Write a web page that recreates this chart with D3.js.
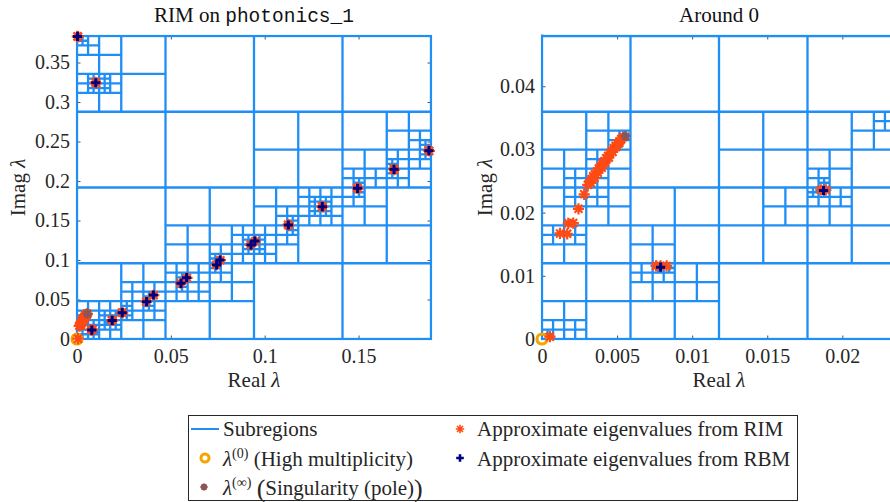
<!DOCTYPE html>
<html><head><meta charset="utf-8">
<script src="https://cdn.jsdelivr.net/npm/d3@7"></script>
<style>
body{margin:0;background:#fff}
svg{display:block}
svg text{font-family:'Liberation Serif','DejaVu Serif',serif}
svg text .mono{font-family:'Liberation Mono','DejaVu Sans Mono',monospace}
</style>
</head><body>
<svg id="chart" width="890" height="502"></svg>
<script>
// ---------------- data ----------------
const XMAX = 0.1886, YMAX = 0.3836;   // search region [0,XMAX] x [0,YMAX]

// subregions: cells that were split, [level, column (from left), row (from top)]
const splitCells = [
  [0,0,0],
  [1,0,0],[1,1,0],[1,0,1],[1,1,1],
  [2,0,0],[2,2,1],[2,3,1],[2,1,2],[2,2,2],[2,3,2],[2,0,3],[2,1,3],
  [3,0,0],[3,0,1],[3,7,2],[3,6,3],[3,7,3],[3,2,5],[3,3,5],[3,4,4],[3,5,4],[3,4,5],
  [3,6,4],[3,1,6],[3,0,7],[3,1,7],[3,2,6],[3,3,6],
  [4,0,0],[4,0,2],[4,1,2],[4,15,5],[4,12,7],[4,13,7],[4,14,6],[4,15,6],[4,14,7],
  [4,7,10],[4,6,11],[4,7,11],[4,9,9],[4,10,8],[4,11,8],[4,10,9],[4,11,9],[4,8,10],
  [4,9,10],[4,8,11],[4,12,8],[4,2,13],[4,3,13],[4,0,14],[4,1,14],[4,0,15],[4,1,15],
  [4,2,14],[4,3,14],[4,4,12],[4,5,12],[4,4,13],[4,5,13],[4,6,12],
  [5,0,0],[5,1,4],[5,1,5],[5,2,4],[5,2,5],[5,31,11],[5,31,12],[5,25,15],[5,25,16],
  [5,28,13],[5,28,14],[5,15,21],[5,15,22],[5,16,21],[5,16,22],[5,19,19],[5,19,20],
  [5,21,17],[5,22,17],[5,21,18],[5,22,18],[5,12,23],[5,12,24],[5,9,25],[5,9,26],
  [5,6,27],[5,6,28],[5,4,28],[5,4,29],[5,0,29],[5,2,29],[5,3,29],[5,0,30],[5,1,30],
  [5,2,30],[5,3,30],[5,0,31],[5,1,31],
  [6,0,0],[6,1,58],[6,0,59],[6,1,59],[6,7,58],[6,6,59],[6,0,60],[6,1,60],[6,0,61],
  [6,2,61],[6,5,60],[6,6,60],[6,0,63],[6,2,62],[6,3,62],
  [7,3,117],[7,1,119],[7,2,118],[7,2,119],[7,15,116],[7,12,119],[7,1,120],[7,2,120],
  [7,0,122],[7,1,122],[7,12,120],[7,13,120],[7,0,127],[7,1,127],[7,4,124],[7,5,124],
  [8,24,240],[8,25,240],[8,25,239],[8,10,248],[8,11,248],[8,7,234],[8,0,255]
];

// lambda^(0): high multiplicity point
const lambda0 = [[0, 0]];
// lambda^(inf): singularity (pole)
const poles = [[0.00556, 0.0321]];

// approximate eigenvalues from RBM
const rbmEig = [
  [0.0003,0.3830],[0.0100,0.3244],[0.1875,0.2384],[0.1689,0.2148],[0.1495,0.1908],
  [0.1307,0.1675],[0.1126,0.1443],[0.0927,0.1190],[0.0948,0.1240],[0.0744,0.0937],
  [0.0762,0.1000],[0.0554,0.0705],[0.0584,0.0776],[0.0371,0.0472],[0.0407,0.0557],
  [0.0241,0.0333],[0.01875,0.0235],[0.0079,0.01136]
];

// approximate eigenvalues from RIM
const rimEig = [
  [0.0002,0.3832],[0.0006,0.3826],[0.0098,0.3248],[0.0102,0.3240],
  [0.1873,0.2388],[0.1877,0.2380],[0.1687,0.2152],[0.1691,0.2144],
  [0.1493,0.1912],[0.1497,0.1904],[0.1305,0.1679],[0.1309,0.1671],
  [0.1124,0.1447],[0.1128,0.1439],[0.0925,0.1192],[0.0950,0.1238],
  [0.0742,0.0940],[0.0764,0.0998],[0.0552,0.0707],[0.0586,0.0774],
  [0.0369,0.0474],[0.0409,0.0555],[0.0239,0.0335],[0.0243,0.0331],
  [0.01857,0.0236],[0.0189,0.0236],
  [0.0076,0.01157],[0.0079,0.01157],[0.0083,0.01157],
  [0.00053,0.00037],
  [0.00120,0.01670],[0.00168,0.01665],[0.00175,0.01830],[0.00208,0.01835],
  [0.00243,0.02060],[0.00281,0.02290],
  [0.00305,0.02440],[0.00318,0.02490],[0.00330,0.02530],[0.00341,0.02575],
  [0.00352,0.02610],[0.00366,0.02650],[0.00379,0.02700],[0.00390,0.02735],
  [0.00403,0.02780],[0.00415,0.02815],[0.00428,0.02860],[0.00441,0.02900],
  [0.00452,0.02940],[0.00466,0.02975],[0.00478,0.03020],[0.00490,0.03055],
  [0.00503,0.03090],[0.00516,0.03130],[0.00528,0.03165],[0.00540,0.03195],
  [0.00325,0.02470],[0.00350,0.02550],[0.00372,0.02630],[0.00398,0.02710],
  [0.00420,0.02790],[0.00445,0.02870],[0.00470,0.02960],[0.00495,0.03040],
  [0.00515,0.03100]
];

const leftXTicks = [0, 0.05, 0.1, 0.15];
const leftXTickLabels = ["0", "0.05", "0.1", "0.15"];
const leftYTicks = [0, 0.05, 0.1, 0.15, 0.2, 0.25, 0.3, 0.35];
const leftYTickLabels = ["0", "0.05", "0.1", "0.15", "0.2", "0.25", "0.3", "0.35"];
const rightXTicks = [0, 0.005, 0.01, 0.015, 0.02];
const rightXTickLabels = ["0", "0.005", "0.01", "0.015", "0.02"];
const rightYTicks = [0, 0.01, 0.02, 0.03, 0.04];
const rightYTickLabels = ["0", "0.01", "0.02", "0.03", "0.04"];

// ---------------- styles ----------------
const SERIF = "'Liberation Serif', 'DejaVu Serif', serif";
const MONO = "'Liberation Mono', 'DejaVu Sans Mono', monospace";
const BLUE = "#1f8ef5", ORANGE = "#f5a500", RED = "#ff4a14", NAVY = "#000082", BROWN = "#8a5656";
const svg = d3.select("#chart").attr("font-family", SERIF);

const starPath = r => { const k = r * 0.7071;
  return `M${-r},0H${r}M0,${-r}V${r}M${-k},${-k}L${k},${k}M${-k},${k}L${k},${-k}`; };
const plusPath = r => `M${-r},0H${r}M0,${-r}V${r}`;
const txt = sel => sel.style("font-family", SERIF).attr("fill", "#262626");

// segments of split cells (cross through each split cell), in data units
const segs = [];
splitCells.forEach(([L, i, j]) => {
  const n = 2 ** L;
  const x0 = i / n * XMAX, x1 = (i + 1) / n * XMAX;
  const yT = YMAX * (1 - j / n), yB = YMAX * (1 - (j + 1) / n);
  const xm = (x0 + x1) / 2, ym = (yT + yB) / 2;
  segs.push([xm, yB, xm, yT]);
  segs.push([x0, ym, x1, ym]);
});

const panels = [
  {id: "L", left: 77, top: 36, width: 354, height: 303, xd: [0, XMAX], yd: [0, YMAX],
   xt: leftXTicks, xl: leftXTickLabels, yt: leftYTicks, yl: leftYTickLabels, ylabX: 25, title: "left"},
  {id: "R", left: 542, top: 36, width: 354, height: 303, xd: [0, XMAX / 8], yd: [0, YMAX / 8],
   xt: rightXTicks, xl: rightXTickLabels, yt: rightYTicks, yl: rightYTickLabels, ylabX: 492, title: "right"}
];

panels.forEach(p => {
  const x = d3.scaleLinear().domain(p.xd).range([p.left, p.left + p.width]);
  const y = d3.scaleLinear().domain(p.yd).range([p.top + p.height, p.top]);
  const g = svg.append("g");

  svg.append("clipPath").attr("id", "clip" + p.id).append("rect")
    .attr("x", p.left - 1.5).attr("y", p.top - 1.5)
    .attr("width", p.width + 3).attr("height", p.height + 3);

  const fmtX = d => p.xl[p.xt.indexOf(d)];
  const fmtY = d => p.yl[p.yt.indexOf(d)];
  const axes = [
    g.append("g").attr("transform", `translate(0,${p.top + p.height})`)
      .call(d3.axisBottom(x).tickValues(p.xt).tickFormat(fmtX).tickSize(-3.5).tickPadding(10)),
    g.append("g").attr("transform", `translate(0,${p.top})`)
      .call(d3.axisTop(x).tickValues(p.xt).tickFormat("").tickSize(-3.5)),
    g.append("g").attr("transform", `translate(${p.left},0)`)
      .call(d3.axisLeft(y).tickValues(p.yt).tickFormat(fmtY).tickSize(-3.5).tickPadding(7)),
    g.append("g").attr("transform", `translate(${p.left + p.width},0)`)
      .call(d3.axisRight(y).tickValues(p.yt).tickFormat("").tickSize(-3.5))
  ];
  axes.forEach(a => {
    a.attr("font-family", SERIF);
    a.select(".domain").remove();
    a.selectAll("line").attr("stroke", "#262626").attr("stroke-width", 0.8);
    a.selectAll("text").call(txt).attr("font-size", 20);
  });

  // subregions
  const lg = g.append("g").attr("clip-path", `url(#clip${p.id})`);
  lg.selectAll("line.sub").data(segs.filter(s =>
      Math.min(s[0], s[2]) <= p.xd[1] * 1.001 && Math.min(s[1], s[3]) <= p.yd[1] * 1.001))
    .join("line").attr("class", "sub")
    .attr("x1", s => x(s[0])).attr("y1", s => y(s[1]))
    .attr("x2", s => x(s[2])).attr("y2", s => y(s[3]))
    .attr("stroke", BLUE).attr("stroke-width", 2.3);
  lg.append("rect")
    .attr("x", x(0)).attr("y", y(YMAX)).attr("width", x(XMAX) - x(0)).attr("height", y(0) - y(YMAX))
    .attr("fill", "none").attr("stroke", BLUE).attr("stroke-width", 2.3);

  const inside = d => d[0] <= p.xd[1] * 1.0005 && d[1] <= p.yd[1] * 1.0005;

  g.selectAll("circle.l0").data(lambda0.filter(inside)).join("circle").attr("class", "l0")
    .attr("cx", d => x(d[0])).attr("cy", d => y(d[1])).attr("r", 5)
    .attr("fill", "none").attr("stroke", ORANGE).attr("stroke-width", 3.2);
  g.selectAll("path.rim").data(rimEig.filter(inside)).join("path").attr("class", "rim")
    .attr("transform", d => `translate(${x(d[0])},${y(d[1])})`)
    .attr("d", starPath(5.6)).attr("stroke", RED).attr("stroke-width", 2.2).attr("fill", "none");
  g.selectAll("path.pole").data(poles.filter(inside)).join("path").attr("class", "pole")
    .attr("transform", d => `translate(${x(d[0])},${y(d[1])})`)
    .attr("d", starPath(4.8)).attr("stroke", BROWN).attr("stroke-width", 2.4).attr("fill", "none");
  g.selectAll("path.rbm").data(rbmEig.filter(inside)).join("path").attr("class", "rbm")
    .attr("transform", d => `translate(${x(d[0])},${y(d[1])})`)
    .attr("d", plusPath(4.6)).attr("stroke", NAVY).attr("stroke-width", 3).attr("fill", "none");

  // labels
  const cx = p.left + p.width / 2, cy = p.top + p.height / 2;
  const xl = svg.append("text").call(txt).attr("x", cx).attr("y", 387).attr("text-anchor", "middle").attr("font-size", 21);
  xl.append("tspan").text("Real ");
  xl.append("tspan").attr("font-style", "italic").text("λ");
  const yl = svg.append("text").call(txt).attr("transform", `translate(${p.ylabX},${cy}) rotate(-90)`)
    .attr("text-anchor", "middle").attr("font-size", 21);
  yl.append("tspan").text("Imag ");
  yl.append("tspan").attr("font-style", "italic").text("λ");
  const t = svg.append("text").call(txt).attr("x", cx).attr("y", 22).attr("text-anchor", "middle")
    .attr("font-size", 21).attr("fill", "#111");
  if (p.title === "left") {
    t.append("tspan").text("RIM on ");
    t.append("tspan").style("font-family", MONO).attr("font-size", 19.5).text("photonics_1");
  } else {
    t.text("Around 0");
  }
});

// ---------------- legend ----------------
const lgd = svg.append("g");
lgd.append("rect").attr("x", 188.5).attr("y", 415.5).attr("width", 609).attr("height", 85)
  .attr("fill", "#fff").attr("stroke", "#262626").attr("stroke-width", 1);
lgd.append("line").attr("x1", 191).attr("x2", 219).attr("y1", 429).attr("y2", 429)
  .attr("stroke", BLUE).attr("stroke-width", 2);
lgd.append("circle").attr("cx", 205).attr("cy", 458).attr("r", 4).attr("fill", "none")
  .attr("stroke", ORANGE).attr("stroke-width", 3);
lgd.append("path").attr("transform", "translate(204,487)").attr("d", starPath(3.6))
  .attr("stroke", BROWN).attr("stroke-width", 2.2).attr("fill", "none");
lgd.append("path").attr("transform", "translate(460,429)").attr("d", starPath(4.2))
  .attr("stroke", RED).attr("stroke-width", 1.6).attr("fill", "none");
lgd.append("path").attr("transform", "translate(460,458)").attr("d", plusPath(3.8))
  .attr("stroke", NAVY).attr("stroke-width", 2.6).attr("fill", "none");

const legendFont = 21;
lgd.append("text").call(txt).attr("x", 223).attr("y", 436).attr("font-size", legendFont).text("Subregions");
const l2 = lgd.append("text").call(txt).attr("x", 223).attr("y", 466).attr("font-size", legendFont);
l2.append("tspan").attr("font-style", "italic").text("λ");
l2.append("tspan").attr("font-size", 14).attr("dy", -8).text("(0)");
l2.append("tspan").attr("dy", 8).text(" (High multiplicity)");
const l3 = lgd.append("text").call(txt).attr("x", 223).attr("y", 495).attr("font-size", legendFont);
l3.append("tspan").attr("font-style", "italic").text("λ");
l3.append("tspan").attr("font-size", 14).attr("dy", -8).text("(∞)");
l3.append("tspan").attr("dy", 8).text(" ");
l3.append("tspan").attr("font-size", 26).attr("dy", 2).text("(");
l3.append("tspan").attr("dy", -2).text("Singularity (pole)");
l3.append("tspan").attr("font-size", 26).attr("dy", 2).text(")");
lgd.append("text").call(txt).attr("x", 477).attr("y", 436).attr("font-size", legendFont).text("Approximate eigenvalues from RIM");
lgd.append("text").call(txt).attr("x", 477).attr("y", 466).attr("font-size", legendFont).text("Approximate eigenvalues from RBM");
</script>
</body></html>
